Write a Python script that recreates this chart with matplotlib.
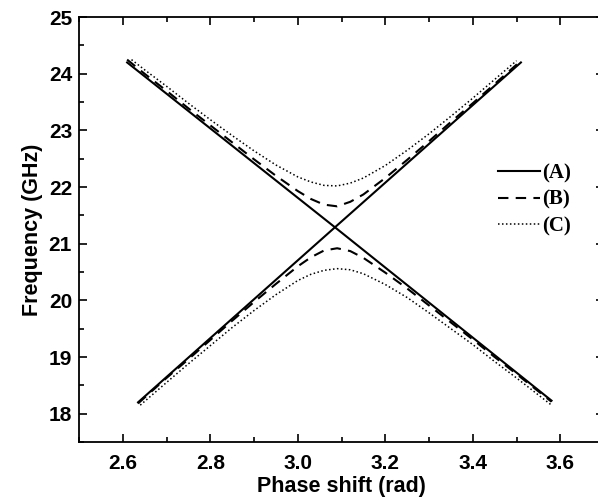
import numpy as np
from matplotlib import pyplot as plt

# phase shift (rad) and frequency (GHz)
# (A) uncoupled: two straight branches crossing near 3.085 rad
a_up_x = [2.61, 3.085, 3.51]
a_up_y = [24.20, 21.29, 24.20]
a_lo_x = [2.635, 3.085, 3.58]
a_lo_y = [18.20, 21.29, 18.23]

# (B) weak coupling
b_up_x = [2.61, 2.65, 2.70, 2.75, 2.80, 2.85, 2.90, 2.95, 3.00, 3.03, 3.06,
          3.09, 3.12, 3.15, 3.20, 3.25, 3.30, 3.35, 3.40, 3.45, 3.51]
b_up_y = [24.25, 24.00, 23.70, 23.39, 23.09, 22.79, 22.49, 22.20, 21.93, 21.79, 21.69,
          21.66, 21.74, 21.87, 22.16, 22.48, 22.81, 23.15, 23.48, 23.82, 24.23]
b_lo_x = [2.635, 2.70, 2.75, 2.80, 2.85, 2.90, 2.95, 3.00, 3.03, 3.06, 3.09,
          3.12, 3.15, 3.20, 3.25, 3.30, 3.35, 3.40, 3.45, 3.50, 3.58]
b_lo_y = [18.18, 18.63, 18.96, 19.30, 19.64, 19.97, 20.29, 20.60, 20.76, 20.88, 20.92,
          20.87, 20.75, 20.49, 20.21, 19.91, 19.61, 19.31, 19.00, 18.70, 18.21]

# (C) strong coupling
c_up_x = [2.62, 2.65, 2.70, 2.75, 2.80, 2.85, 2.90, 2.95, 3.00, 3.03, 3.06,
          3.09, 3.12, 3.15, 3.20, 3.25, 3.30, 3.35, 3.40, 3.45, 3.50]
c_up_y = [24.25, 24.07, 23.78, 23.48, 23.19, 22.91, 22.64, 22.39, 22.18, 22.09, 22.03,
          22.02, 22.07, 22.16, 22.38, 22.65, 22.94, 23.25, 23.57, 23.90, 24.23]
c_lo_x = [2.64, 2.70, 2.75, 2.80, 2.85, 2.90, 2.95, 3.00, 3.03, 3.06, 3.09,
          3.12, 3.15, 3.20, 3.25, 3.30, 3.35, 3.40, 3.45, 3.50, 3.58]
c_lo_y = [18.15, 18.55, 18.88, 19.20, 19.52, 19.82, 20.10, 20.35, 20.46, 20.53, 20.56,
          20.54, 20.47, 20.28, 20.05, 19.78, 19.50, 19.22, 18.92, 18.63, 18.15]

labels = ["(A)", "(B)", "(C)"]

plt.rcParams["font.family"] = ["Liberation Sans", "DejaVu Sans"]
plt.rcParams["font.weight"] = "bold"

fig = plt.figure(figsize=(5.98, 5.01), dpi=100)
ax = fig.add_axes([0.1321, 0.1178, 0.878, 0.848])

# (A) solid
(la,) = ax.plot(a_up_x, a_up_y, color="black", lw=1.5, ls="-")
ax.plot(a_lo_x, a_lo_y, color="black", lw=1.5, ls="-")
# (B) dashed
(lb,) = ax.plot(b_up_x, b_up_y, color="black", lw=1.5, ls=(0, (5, 3.5)))
ax.plot(b_lo_x, b_lo_y, color="black", lw=1.5, ls=(0, (5, 3.5)))
# (C) dotted
(lc,) = ax.plot(c_up_x, c_up_y, color="black", lw=1.1, ls=(0, (1, 1.6)))
ax.plot(c_lo_x, c_lo_y, color="black", lw=1.1, ls=(0, (1, 1.6)))

ax.set_xlim(2.5, 3.7)
ax.set_ylim(17.5, 25)
ax.set_xticks(np.arange(2.6, 3.61, 0.2))
ax.set_xticks(np.arange(2.5, 3.71, 0.1), minor=True)
ax.set_yticks(np.arange(18, 25.1, 1))
ax.set_yticks(np.arange(17.5, 25.1, 0.5), minor=True)
ax.xaxis.set_major_formatter(plt.FormatStrFormatter("%.1f"))

ax.tick_params(which="both", direction="in", top=True, right=True, width=1.2, labelsize=15)
ax.tick_params(which="major", length=6)
ax.tick_params(axis="x", which="major", pad=9)
ax.tick_params(axis="y", which="major", pad=5)
ax.tick_params(which="minor", length=3.5)
for s in ax.spines.values():
    s.set_linewidth(1.3)

ax.set_xlabel("Phase shift (rad)", fontsize=15.5, fontweight="bold", labelpad=2)
ax.set_ylabel("Frequency (GHz)", fontsize=15.5, fontweight="bold", labelpad=4)

ax.legend(
    [la, lb, lc],
    labels,
    loc="upper left",
    bbox_to_anchor=(0.783, 0.675),
    frameon=False,
    handlelength=2.0,
    handletextpad=0.1,
    labelspacing=0.3,
    borderaxespad=0,
    prop={"family": "Liberation Serif", "weight": "bold", "size": 15},
)

plt.savefig("out.png", dpi=100)
plt.close()
